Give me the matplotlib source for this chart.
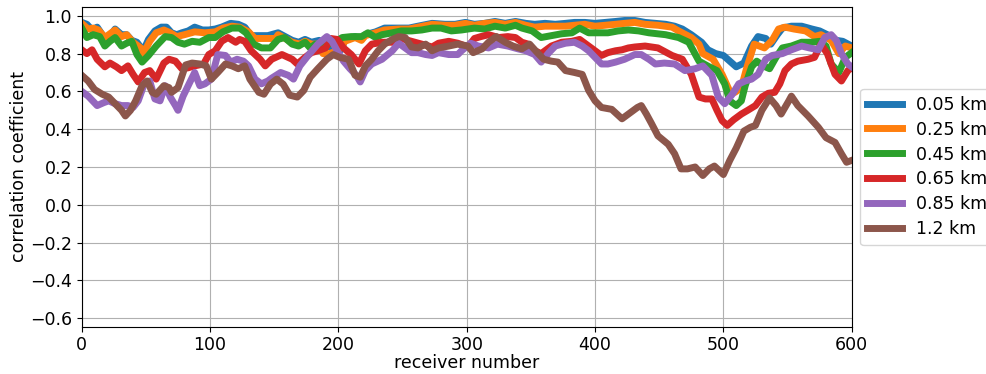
import matplotlib
matplotlib.use("Agg")
import matplotlib.pyplot as plt

# offsets (legend labels)
labels = ["0.05 km", "0.25 km", "0.45 km", "0.65 km", "0.85 km", "1.2 km"]
colors = ["#1f77b4", "#ff7f0e", "#2ca02c", "#d62728", "#9467bd", "#8c564b"]

# receiver numbers and correlation coefficients, one pair of lists per offset
recv_005 = [0, 4, 8, 12, 16, 20, 26, 31, 35, 39, 43, 48, 52, 57, 62, 66, 70, 74, 78, 83, 88, 94, 99, 104, 109, 116, 122, 127, 132, 139, 145,
            153, 164, 169, 174, 179, 185, 190, 197, 202, 205, 213, 218, 221, 229, 236, 247, 255, 262, 273, 283, 291, 299,
            306, 314, 322, 330, 338, 346, 353, 361, 369, 377, 384, 392, 400, 408, 416, 423, 431, 439, 447,
            455, 462, 468, 475, 483, 488, 494, 500, 505, 510, 516, 522, 527, 533, 537, 542, 546, 553, 561, 569, 575, 581, 588, 593, 600]
corr_005 = [0.965, 0.955, 0.925, 0.94, 0.90, 0.875, 0.93, 0.90, 0.90, 0.87, 0.86, 0.815, 0.875, 0.92, 0.94, 0.94, 0.91, 0.90, 0.91, 0.92, 0.94, 0.925, 0.925, 0.93, 0.94, 0.96, 0.955, 0.94, 0.895, 0.895, 0.895,
            0.91, 0.87, 0.86, 0.875, 0.86, 0.87, 0.85, 0.82, 0.82, 0.87, 0.89, 0.875, 0.90, 0.915, 0.935, 0.935, 0.935, 0.945, 0.96, 0.955, 0.955, 0.965,
            0.955, 0.96, 0.97, 0.96, 0.97, 0.96, 0.955, 0.96, 0.955, 0.96, 0.965, 0.965, 0.96, 0.965, 0.97, 0.975, 0.975, 0.965, 0.96,
            0.955, 0.945, 0.93, 0.90, 0.86, 0.82, 0.80, 0.79, 0.76, 0.73, 0.75, 0.84, 0.89, 0.88, 0.85, 0.90, 0.935, 0.945, 0.945, 0.93, 0.92, 0.90, 0.87, 0.865, 0.84]

recv_025 = [0, 5, 9, 13, 18, 26, 31, 35, 40, 46, 48, 53, 58, 64, 69, 74, 80, 88, 96, 104, 110, 117, 123, 130, 135, 143, 151,
            153, 164, 170, 174, 179, 185, 188, 193, 197, 202, 205, 213, 218, 221, 229, 236, 247, 255, 262, 273, 283, 291, 299,
            306, 314, 322, 330, 338, 346, 353, 361, 369, 377, 384, 392, 400, 408, 416, 423, 431, 439, 449,
            460, 465, 475, 481, 484, 492, 499, 505, 509, 514, 518, 524, 532, 538, 543, 548, 555, 564, 571, 576, 584, 590, 595, 600]
corr_025 = [0.96, 0.93, 0.935, 0.925, 0.885, 0.925, 0.89, 0.90, 0.86, 0.83, 0.80, 0.865, 0.91, 0.925, 0.91, 0.89, 0.90, 0.915, 0.91, 0.915, 0.935, 0.945, 0.94, 0.915, 0.88, 0.88, 0.88,
            0.90, 0.86, 0.85, 0.865, 0.85, 0.85, 0.80, 0.80, 0.81, 0.83, 0.865, 0.885, 0.87, 0.895, 0.91, 0.925, 0.93, 0.93, 0.94, 0.955, 0.95, 0.95, 0.96,
            0.95, 0.96, 0.965, 0.955, 0.965, 0.95, 0.94, 0.945, 0.945, 0.945, 0.95, 0.955, 0.945, 0.95, 0.955, 0.96, 0.965, 0.955, 0.95,
            0.94, 0.92, 0.885, 0.85, 0.80, 0.77, 0.69, 0.60, 0.595, 0.62, 0.72, 0.85, 0.83, 0.87, 0.93, 0.94, 0.93, 0.92, 0.89, 0.90, 0.87, 0.80, 0.84, 0.83]

recv_045 = [0, 4, 9, 14, 18, 22, 26, 31, 35, 39, 43, 47, 52, 58, 65, 70, 75, 80, 86, 92, 99, 104, 110, 117, 123, 128, 134, 140, 147,
            153, 158, 164, 169, 174, 178, 182, 187, 192, 197, 203, 210, 218, 223, 229, 234, 242, 249, 257, 265, 273, 280, 288, 296,
            306, 314, 322, 330, 338, 343, 351, 358, 366, 374, 382, 388, 395, 403, 410, 418, 426, 434, 442,
            455, 465, 473, 481, 489, 495, 501, 505, 510, 514, 517, 522, 526, 531, 536, 541, 546, 553, 561, 569, 575, 580, 584, 590, 595, 600]
corr_045 = [0.935, 0.885, 0.90, 0.89, 0.84, 0.865, 0.885, 0.84, 0.855, 0.865, 0.795, 0.755, 0.79, 0.84, 0.89, 0.885, 0.86, 0.85, 0.865, 0.86, 0.885, 0.885, 0.915, 0.935, 0.935, 0.91, 0.85, 0.83, 0.83,
            0.875, 0.885, 0.85, 0.84, 0.86, 0.83, 0.85, 0.84, 0.85, 0.86, 0.885, 0.89, 0.89, 0.91, 0.885, 0.90, 0.91, 0.92, 0.92, 0.925, 0.935, 0.935, 0.92, 0.925,
            0.935, 0.93, 0.945, 0.935, 0.95, 0.935, 0.92, 0.885, 0.895, 0.905, 0.91, 0.935, 0.91, 0.91, 0.91, 0.92, 0.925, 0.92, 0.91,
            0.90, 0.885, 0.86, 0.76, 0.73, 0.71, 0.64, 0.55, 0.525, 0.55, 0.63, 0.73, 0.76, 0.735, 0.72, 0.78, 0.83, 0.84, 0.86, 0.86, 0.865, 0.84, 0.745, 0.70, 0.78, 0.805]

recv_065 = [0, 4, 8, 12, 18, 22, 27, 31, 36, 40, 44, 49, 53, 58, 64, 68, 73, 78, 83, 88, 95, 99, 104, 109, 114, 120, 123, 127, 132, 139, 143,
            148, 156, 164, 168, 174, 179, 184, 190, 194, 199, 204, 210, 216, 221, 226, 234, 242, 249, 257, 265, 273, 278, 286, 293,
            301, 306, 311, 317, 325, 332, 338, 343, 348, 353, 358, 366, 374, 382, 388, 395, 400, 405, 410, 416, 421, 426, 431, 439,
            449, 460, 468, 475, 481, 486, 491, 495, 499, 503, 508, 514, 519, 525, 530, 535, 540, 544, 548, 553, 558, 566, 571, 576, 581, 587, 592, 597, 600]
corr_065 = [0.82, 0.80, 0.82, 0.77, 0.73, 0.75, 0.73, 0.71, 0.735, 0.69, 0.65, 0.70, 0.71, 0.665, 0.75, 0.77, 0.76, 0.72, 0.725, 0.735, 0.745, 0.795, 0.815, 0.865, 0.885, 0.86, 0.875, 0.865, 0.815, 0.77, 0.735,
            0.77, 0.795, 0.77, 0.745, 0.78, 0.805, 0.815, 0.83, 0.88, 0.875, 0.83, 0.795, 0.745, 0.815, 0.85, 0.86, 0.86, 0.88, 0.865, 0.85, 0.835, 0.855, 0.865, 0.855,
            0.835, 0.88, 0.89, 0.90, 0.885, 0.89, 0.885, 0.86, 0.85, 0.815, 0.80, 0.84, 0.86, 0.865, 0.875, 0.84, 0.815, 0.79, 0.805, 0.815, 0.82, 0.83, 0.835, 0.84,
            0.83, 0.79, 0.77, 0.69, 0.57, 0.56, 0.56, 0.50, 0.445, 0.42, 0.45, 0.48, 0.50, 0.525, 0.57, 0.59, 0.595, 0.64, 0.71, 0.745, 0.76, 0.77, 0.78, 0.85, 0.80, 0.69, 0.655, 0.71, 0.725]

recv_085 = [0, 5, 12, 17, 21, 26, 31, 36, 40, 44, 49, 53, 57, 61, 65, 69, 73, 75, 79, 84, 88, 92, 96, 101, 106, 112, 116, 121, 126, 130, 135, 140, 145,
            148, 155, 161, 165, 170, 177, 184, 191, 195, 199, 204, 209, 214, 217, 221, 226, 234, 242, 247, 252, 257, 262, 268, 273, 278, 286, 293,
            296, 303, 309, 317, 324, 332, 340, 346, 353, 358, 364, 369, 377, 384, 390, 395, 400, 405, 410, 416, 423, 431, 436,
            442, 447, 454, 462, 470, 478, 484, 491, 496, 501, 507, 512, 517, 522, 527, 533, 538, 546, 553, 561, 567, 574, 579, 584, 588, 592, 597, 600]
corr_085 = [0.60, 0.575, 0.525, 0.54, 0.55, 0.535, 0.525, 0.525, 0.515, 0.55, 0.645, 0.655, 0.56, 0.55, 0.63, 0.57, 0.525, 0.50, 0.575, 0.645, 0.70, 0.63, 0.64, 0.665, 0.795, 0.79, 0.755, 0.77, 0.76, 0.735, 0.665, 0.64, 0.655,
            0.67, 0.70, 0.685, 0.665, 0.735, 0.795, 0.85, 0.89, 0.865, 0.815, 0.76, 0.72, 0.685, 0.65, 0.71, 0.745, 0.77, 0.815, 0.855, 0.83, 0.805, 0.805, 0.795, 0.79, 0.805, 0.795, 0.795,
            0.815, 0.855, 0.84, 0.83, 0.85, 0.84, 0.825, 0.815, 0.795, 0.755, 0.805, 0.84, 0.855, 0.86, 0.84, 0.815, 0.78, 0.745, 0.745, 0.755, 0.77, 0.795, 0.795,
            0.77, 0.745, 0.75, 0.745, 0.71, 0.72, 0.735, 0.685, 0.57, 0.535, 0.585, 0.64, 0.655, 0.665, 0.69, 0.77, 0.79, 0.80, 0.82, 0.84, 0.83, 0.82, 0.885, 0.90, 0.87, 0.80, 0.745, 0.73]

recv_12 = [0, 5, 10, 16, 21, 26, 31, 34, 38, 42, 47, 51, 55, 58, 64, 68, 70, 75, 81, 86, 92, 97, 101, 106, 112, 117, 122, 127, 131, 138, 142,
           147, 152, 157, 162, 168, 173, 178, 184, 191, 196, 201, 208, 213, 217, 221, 226, 231, 236, 242, 247, 252, 257, 262, 268, 273, 278, 286, 293,
           301, 305, 312, 317, 323, 330, 336, 343, 349, 355, 360, 366, 371, 377, 384, 390, 395, 400, 405, 413, 421, 426, 433, 436, 440,
           444, 449, 457, 462, 467, 472, 478, 484, 489, 493, 500, 505, 510, 516, 521, 525, 530, 536, 541, 545, 551, 553, 558, 566, 574, 580, 587, 592, 596, 600]
corr_12 = [0.685, 0.655, 0.61, 0.585, 0.57, 0.535, 0.50, 0.47, 0.50, 0.55, 0.63, 0.655, 0.595, 0.585, 0.63, 0.62, 0.595, 0.62, 0.74, 0.75, 0.745, 0.735, 0.665, 0.70, 0.745, 0.735, 0.72, 0.735, 0.665, 0.595, 0.585,
           0.638, 0.665, 0.638, 0.58, 0.57, 0.605, 0.675, 0.72, 0.77, 0.795, 0.78, 0.77, 0.685, 0.675, 0.735, 0.77, 0.815, 0.85, 0.875, 0.89, 0.885, 0.835, 0.83, 0.85, 0.815, 0.83, 0.84, 0.85,
           0.84, 0.805, 0.825, 0.86, 0.89, 0.86, 0.84, 0.825, 0.85, 0.805, 0.77, 0.76, 0.755, 0.71, 0.70, 0.69, 0.605, 0.55, 0.515, 0.505, 0.455, 0.48, 0.515, 0.525, 0.48,
           0.43, 0.365, 0.32, 0.27, 0.19, 0.19, 0.20, 0.155, 0.19, 0.205, 0.16, 0.235, 0.30, 0.39, 0.41, 0.42, 0.50, 0.565, 0.525, 0.48, 0.55, 0.575, 0.525, 0.47, 0.41, 0.355, 0.33, 0.27, 0.225, 0.235]

recvs = [recv_005, recv_025, recv_045, recv_065, recv_085, recv_12]
corrs = [corr_005, corr_025, corr_045, corr_065, corr_085, corr_12]

fs = 12.5

fig = plt.figure(figsize=(9.86, 3.74), dpi=100)
ax = fig.add_axes([0.0829, 0.1265, 0.7809, 0.854])

for r, c, lab, col in zip(recvs, corrs, labels, colors):
    ax.plot(r, c, color=col, lw=5, label=lab)

ax.set_xlim(0, 600)
ax.set_ylim(-0.645, 1.045)
ax.set_xticks(range(0, 601, 100))
ax.set_yticks([-0.6, -0.4, -0.2, 0.0, 0.2, 0.4, 0.6, 0.8, 1.0])
ax.tick_params(labelsize=fs)
ax.grid(True)
ax.set_xlabel("receiver number", fontsize=fs, labelpad=0)
ax.set_ylabel("correlation coefficient", fontsize=fs, labelpad=1.5)
ax.legend(loc="center left", bbox_to_anchor=(1.0, 0.5), fontsize=fs,
          labelspacing=0.4)

fig.savefig("out.png", dpi=100)
